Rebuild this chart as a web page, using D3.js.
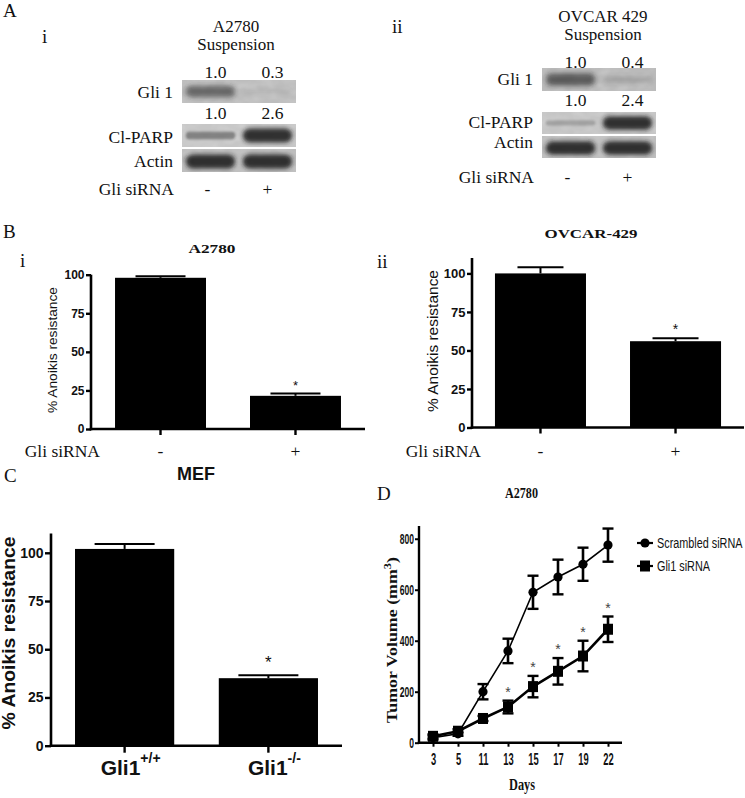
<!DOCTYPE html>
<html><head><meta charset="utf-8">
<script src="https://d3js.org/d3.v7.min.js"></script>
<style>
body{margin:0;background:#fff}
svg{display:block}
.serif{font-family:"Liberation Serif","Times New Roman",serif;fill:#111}
.sans{font-family:"Liberation Sans",Arial,sans-serif;fill:#111}
</style>
</head><body>
<script>
// ---------------- DATA ----------------
const blotRows = ["Gli 1", "Cl-PARP", "Actin"];
const blotLanes = ["-", "+"];
const a2780Quant = [[1.0, 0.3], [1.0, 2.6]];
const a2780Bands = [[0.7, 0.05], [0.35, 0.95], [0.95, 0.95]];
const ovcarQuant = [[1.0, 0.4], [1.0, 2.4]];
const ovcarBands = [[0.8, 0.2], [0.12, 0.95], [0.95, 0.95]];

const siRNA = ["-", "+"];
const a2780Anoikis = [98, 21.5];
const a2780AnoikisErr = [1, 1.5];
const ovcarAnoikis = [100, 56];
const ovcarAnoikisErr = [4, 2];
const mefGroups = ["+/+", "-/-"];
const mefAnoikis = [102, 35];
const mefAnoikisErr = [2.5, 1.5];
const anoikisTicks = [0, 25, 50, 75, 100];
const anoikisStars = [false, true];

const days = [3, 5, 11, 13, 15, 17, 19, 22];
const scrambledVol = [20, 35, 200, 360, 590, 650, 700, 775];
const scrambledErr = [8, 8, 30, 48, 65, 68, 65, 65];
const gli1Vol = [25, 45, 95, 140, 220, 280, 340, 445];
const gli1Err = [8, 8, 10, 25, 42, 52, 60, 50];
const gli1Star = [false, false, false, true, true, true, true, true];
const volumeTicks = [0, 200, 400, 600, 800];
const seriesNames = ["Scrambled siRNA", "Gli1 siRNA"];

// ---------------- SETUP ----------------
const svg = d3.select("body").append("svg").attr("width", 745).attr("height", 798);
svg.append("rect").attr("width", 745).attr("height", 798).attr("fill", "#fff");
const defs = svg.append("defs");
[["blurS", 1.3], ["blurM", 2.0], ["blurL", 2.8]].forEach(([id, s]) => {
  defs.append("filter").attr("id", id).attr("x", "-30%").attr("y", "-150%").attr("width", "160%").attr("height", "400%")
    .append("feGaussianBlur").attr("stdDeviation", s);
});
const grain = defs.append("filter").attr("id", "grain").attr("x", 0).attr("y", 0).attr("width", "100%").attr("height", "100%");
grain.append("feTurbulence").attr("type", "fractalNoise").attr("baseFrequency", "0.08 0.12").attr("numOctaves", 2).attr("seed", 5).attr("result", "n");
grain.append("feColorMatrix").attr("in", "n").attr("type", "matrix")
  .attr("values", "0 0 0 0 1  0 0 0 0 1  0 0 0 0 1  0.25 0 0 0 -0.08").attr("result", "m");
grain.append("feComposite").attr("in", "m").attr("in2", "SourceGraphic").attr("operator", "atop");

function txt(g, x, y, s, cls, size, opts = {}) {
  const t = g.append("text").attr("x", x).attr("y", y).attr("class", cls).style("font-size", size + "px").text(s);
  if (opts.anchor) t.attr("text-anchor", opts.anchor);
  if (opts.weight) t.style("font-weight", opts.weight);
  if (opts.len) t.attr("textLength", opts.len).attr("lengthAdjust", "spacingAndGlyphs");
  if (opts.transform) t.attr("transform", opts.transform);
  return t;
}

// Panel letters
txt(svg, 3, 17, "A", "serif", 19);
txt(svg, 3, 238, "B", "serif", 19);
txt(svg, 4, 482, "C", "serif", 19);
txt(svg, 377, 500, "D", "serif", 19);

// ---------------- BLOTS ----------------
let clipId = 0;
function drawBlot(cfg) {
  const g = svg.append("g");
  const lane = d3.scaleBand().domain(blotLanes).range([cfg.x0, cfg.x0 + cfg.w]).paddingInner(0.06).paddingOuter(0.03);
  const bw = lane.bandwidth();
  txt(g, cfg.romanX, cfg.romanY, cfg.roman, "serif", 19);
  cfg.title.forEach((t, i) => txt(g, cfg.titleX, cfg.titleY[i], t, "serif", 17, {anchor: "middle"}));
  cfg.quant.forEach((row, r) => row.forEach((v, i) =>
    txt(g, lane(blotLanes[i]) + bw / 2 + 5, cfg.quantY[r], d3.format(".1f")(v), "serif", 17.5, {anchor: "middle"})));
  cfg.rowY.forEach(([t, b], r) => {
    const id = "clip" + (clipId++);
    defs.append("clipPath").attr("id", id).append("rect").attr("x", cfg.x0).attr("y", t).attr("width", cfg.w).attr("height", b - t);
    const rg = g.append("g").attr("clip-path", `url(#${id})`);
    rg.append("rect").attr("x", cfg.x0).attr("y", t).attr("width", cfg.w).attr("height", b - t)
      .attr("fill", cfg.bg[r]).attr("filter", "url(#grain)");
    const cy = (t + b) / 2 + (r === 2 ? 1 : 0);
    cfg.bands[r].forEach((d, i) => {
      const h = (b - t) * (0.16 + 0.48 * d);
      rg.append("rect").attr("x", lane(blotLanes[i]) + 2).attr("width", bw - 4)
        .attr("y", cy - h / 2).attr("height", h).attr("rx", h / 2)
        .attr("fill", "#1a1a1a").attr("opacity", (r === 0 ? 0.05 + 0.7 * d : 0.12 + 0.8 * d))
        .attr("filter", r === 0 ? "url(#blurL)" : (r === 1 && d < 0.5 ? "url(#blurS)" : "url(#blurM)"));
    });
    txt(g, cfg.labelX, cfg.labelY[r], blotRows[r], "serif", 17.5, {anchor: "end"});
  });
  txt(g, cfg.labelX + 1, cfg.sirnaY, "Gli siRNA", "serif", 17.5, {anchor: "end"});
  blotLanes.forEach(l => txt(g, lane(l) + bw / 2 + (l === "-" ? -3 : 0), cfg.sirnaY, l, "serif", 17.5, {anchor: "middle"}));
}

drawBlot({
  roman: "i", romanX: 42, romanY: 43,
  title: ["A2780", "Suspension"], titleX: 236, titleY: [32, 50],
  x0: 182, w: 114,
  quant: a2780Quant, quantY: [78, 119],
  rowY: [[80, 103], [124, 147], [149, 172]],
  bg: ["#bdbdbd", "#c6c6c6", "#bcbcbc"],
  bands: a2780Bands,
  labelX: 173, labelY: [98, 143, 167], sirnaY: 195
});
drawBlot({
  roman: "ii", romanX: 392, romanY: 33,
  title: ["OVCAR 429", "Suspension"], titleX: 603, titleY: [22, 40],
  x0: 542, w: 114,
  quant: ovcarQuant, quantY: [68, 106],
  rowY: [[68, 91], [112, 134], [136, 158]],
  bg: ["#bababa", "#c4c4c4", "#bdbdbd"],
  bands: ovcarBands,
  labelX: 533, labelY: [85, 128, 148], sirnaY: 183
});

// ---------------- BAR PANELS ----------------
function barPanel(cfg) {
  const g = svg.append("g");
  const x = d3.scaleBand().domain(cfg.cats).range([cfg.x0, cfg.x1]).paddingInner(cfg.pi).paddingOuter(cfg.po);
  const y = d3.scaleLinear().domain([0, cfg.top]).range([cfg.y0, cfg.yTop]);
  const bw = x.bandwidth();
  g.selectAll("rect.bar").data(cfg.cats).join("rect").attr("class", "bar")
    .attr("x", c => x(c)).attr("width", bw)
    .attr("y", (c, i) => y(cfg.means[i])).attr("height", (c, i) => y(0) - y(cfg.means[i]))
    .attr("fill", "#000");
  cfg.cats.forEach((c, i) => {
    const cx = x(c) + bw / 2, top = y(cfg.means[i] + cfg.errs[i]);
    g.append("line").attr("x1", cx).attr("x2", cx).attr("y1", y(cfg.means[i])).attr("y2", top).attr("stroke", "#000").attr("stroke-width", 2);
    g.append("line").attr("x1", cx - cfg.cap / 2).attr("x2", cx + cfg.cap / 2).attr("y1", top).attr("y2", top).attr("stroke", "#000").attr("stroke-width", 2);
    if (cfg.stars[i]) txt(g, cx, top - cfg.starGap, "*", "sans", cfg.starSize, {anchor: "middle"});
  });
  const ya = g.append("g").attr("transform", `translate(${cfg.x0},0)`)
    .call(d3.axisLeft(y).tickValues(anoikisTicks).tickSize(cfg.tick).tickSizeOuter(0).tickPadding(1.5));
  ya.selectAll("text").attr("class", "sans").style("font-size", cfg.tickFont + "px").style("font-weight", "bold").attr("fill", "#111");
  const xa = g.append("g").attr("transform", `translate(0,${cfg.y0})`)
    .call(d3.axisBottom(x).tickSize(cfg.tick + 1).tickSizeOuter(0).tickFormat(() => ""));
  [ya, xa].forEach(a => {
    a.select(".domain").attr("stroke-width", 2.6).attr("stroke", "#000");
    a.selectAll(".tick line").attr("stroke-width", 2.4).attr("stroke", "#000");
  });
  ya.select(".domain").attr("d", `M0,${cfg.y0 + 1.3}V${cfg.yTop}`);
  xa.select(".domain").attr("d", `M${cfg.x0 - 1.3},0H${cfg.x1}`);
  txt(g, cfg.ylabX, cfg.ylabY, "% Anoikis resistance", "sans", cfg.ylabFont,
    {anchor: "middle", weight: cfg.ylabWeight, len: cfg.ylabLen, transform: `rotate(-90,${cfg.ylabX},${cfg.ylabY})`});
  if (cfg.titleSerif) txt(g, cfg.titleX, cfg.titleY, cfg.title, "serif", 12.5, {anchor: "middle", weight: "bold", len: cfg.titleLen});
  else txt(g, cfg.titleX, cfg.titleY, cfg.title, "sans", 18, {anchor: "middle", weight: "bold"});
  return {g, x, y, bw};
}

// B(i)
let p = barPanel({
  cats: siRNA, means: a2780Anoikis, errs: a2780AnoikisErr, stars: anoikisStars,
  x0: 91, x1: 365, pi: 0.326, po: 0.178, y0: 429, yTop: 274.7, top: 100,
  cap: 50, starGap: 4, starSize: 13, tick: 5, tickFont: 12,
  ylabX: 57, ylabY: 350, ylabFont: 13.5, ylabLen: 126,
  title: "A2780", titleX: 212, titleY: 253, titleSerif: true, titleLen: 47
});
txt(svg, 20, 267, "i", "serif", 19);
txt(p.g, 100, 457, "Gli siRNA", "serif", 17.5, {anchor: "end"});
siRNA.forEach(c => txt(p.g, p.x(c) + p.bw / 2, 457, c, "serif", 17.5, {anchor: "middle"}));

// B(ii)
p = barPanel({
  cats: siRNA, means: ovcarAnoikis, errs: ovcarAnoikisErr, stars: anoikisStars,
  x0: 472, x1: 744, pi: 0.326, po: 0.17, y0: 427.5, yTop: 258, top: 110,
  cap: 46, starGap: 4, starSize: 14, tick: 5, tickFont: 13,
  ylabX: 438, ylabY: 341, ylabFont: 15, ylabLen: 142,
  title: "OVCAR-429", titleX: 591, titleY: 238, titleSerif: true, titleLen: 93
});
txt(svg, 377, 268, "ii", "serif", 19);
txt(p.g, 481, 457, "Gli siRNA", "serif", 17.5, {anchor: "end"});
siRNA.forEach(c => txt(p.g, p.x(c) + p.bw / 2, 457, c, "serif", 17.5, {anchor: "middle"}));

// C
p = barPanel({
  cats: mefGroups, means: mefAnoikis, errs: mefAnoikisErr, stars: anoikisStars,
  x0: 51, x1: 342, pi: 0.31, po: 0.167, y0: 745.7, yTop: 533.5, top: 110,
  cap: 60, starGap: 7, starSize: 17, tick: 6, tickFont: 14,
  ylabX: 15, ylabY: 633, ylabFont: 18, ylabWeight: "bold", ylabLen: 193,
  title: "MEF", titleX: 196, titleY: 480, titleSerif: false
});
p.g.selectAll("text.mef").data(mefGroups).join("text").attr("class", "sans mef")
  .attr("x", c => p.x(c) + p.bw / 2 + 6).attr("y", 775).attr("text-anchor", "middle")
  .style("font-size", "21px").style("font-weight", "bold")
  .each(function (c) {
    const t = d3.select(this);
    t.append("tspan").text("Gli1");
    t.append("tspan").attr("dy", -12).style("font-size", "14px").text(c);
  });

// ---------------- PANEL D ----------------
{
  const g = svg.append("g");
  const x = d3.scalePoint().domain(days).range([419, 622]).padding(0.56);
  const y = d3.scaleLinear().domain([0, 850]).range([742.7, 526]);
  const line = d3.line().x((d, i) => x(days[i])).y(d => y(d));
  const ya = g.append("g").attr("transform", "translate(419,0)")
    .call(d3.axisLeft(y).tickValues(volumeTicks).tickSize(4).tickSizeOuter(0));
  const xa = g.append("g").attr("transform", "translate(0,742.7)")
    .call(d3.axisBottom(x).tickSize(4).tickSizeOuter(0));
  [ya, xa].forEach(a => {
    a.select(".domain").attr("stroke-width", 2.4).attr("stroke", "#000");
    a.selectAll(".tick line").attr("stroke-width", 2).attr("stroke", "#000");
    a.selectAll("text").attr("class", "sans").style("font-size", "13px").style("font-weight", "bold").attr("fill", "#111");
  });
  ya.select(".domain").attr("d", "M0,744V526");
  xa.select(".domain").attr("d", "M417.8,0H622");
  ya.selectAll("text").attr("x", -5 / 0.66).attr("transform", "scale(0.66,1.15)").attr("dy", "0.3em");
  xa.selectAll("text").attr("y", 9).attr("transform", "scale(0.72,1.2)");

  const series = [
    {vals: scrambledVol, errs: scrambledErr, sym: "circle", lw: 1.6},
    {vals: gli1Vol, errs: gli1Err, sym: "square", lw: 2.6}
  ];
  series.forEach(s => {
    g.append("path").datum(s.vals).attr("d", line).attr("fill", "none").attr("stroke", "#000").attr("stroke-width", s.lw);
    s.vals.forEach((v, i) => {
      const cx = x(days[i]);
      g.append("line").attr("x1", cx).attr("x2", cx).attr("y1", y(v - s.errs[i])).attr("y2", y(v + s.errs[i]))
        .attr("stroke", "#000").attr("stroke-width", 2.6);
      [v - s.errs[i], v + s.errs[i]].forEach(e => g.append("line").attr("x1", cx - 5.5).attr("x2", cx + 5.5)
        .attr("y1", y(e)).attr("y2", y(e)).attr("stroke", "#000").attr("stroke-width", 2.4));
      if (s.sym === "circle") g.append("circle").attr("cx", cx).attr("cy", y(v)).attr("r", 4.6).attr("fill", "#000");
      else g.append("rect").attr("x", cx - 5).attr("y", y(v) - 5.5).attr("width", 10).attr("height", 11).attr("fill", "#000");
    });
  });
  gli1Vol.forEach((v, i) => {
    if (gli1Star[i]) txt(g, x(days[i]), y(v + gli1Err[i]) - 4, "*", "sans", 14, {anchor: "middle"}).style("fill", "#444");
  });

  txt(g, 521.5, 498, "A2780", "serif", 14, {anchor: "middle", weight: "bold", len: 33});
  const yl = txt(g, 397, 640, "", "serif", 14.5, {anchor: "middle", weight: "bold",
    transform: "rotate(-90,397,640)"});
  yl.attr("textLength", 166).attr("lengthAdjust", "spacingAndGlyphs");
  yl.append("tspan").text("Tumor Volume (mm");
  yl.append("tspan").attr("dy", -6).style("font-size", "10px").text("3");
  yl.append("tspan").attr("dy", 6).text(")");
  txt(g, 522, 790, "Days", "serif", 17, {anchor: "middle", weight: "bold", len: 26});

  seriesNames.forEach((n, i) => {
    const ly = 543 + i * 23;
    g.append("line").attr("x1", 637).attr("x2", 653).attr("y1", ly).attr("y2", ly).attr("stroke", "#000").attr("stroke-width", 2.2);
    if (i === 0) g.append("circle").attr("cx", 645).attr("cy", ly).attr("r", 4.6).attr("fill", "#000");
    else g.append("rect").attr("x", 640).attr("y", ly - 5.5).attr("width", 10).attr("height", 11).attr("fill", "#000");
    txt(g, 0, 0, n, "sans", 15.5, {transform: `translate(657,${ly + 5}) scale(0.7,1)`});
  });
}
</script>
</body></html>
